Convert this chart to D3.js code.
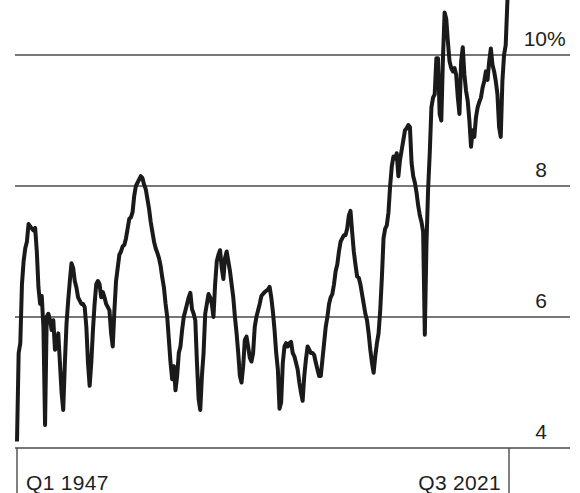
<!DOCTYPE html>
<html>
<head>
<meta charset="utf-8">
<script src="https://cdn.jsdelivr.net/npm/d3@7"></script>
<style>
  html, body { margin: 0; padding: 0; background: #fff; }
  svg { display: block; }
  text { font-family: "Liberation Sans", Arial, Helvetica, sans-serif; fill: #1e1e1e; }
</style>
</head>
<body>
<svg id="chart" width="580" height="493"></svg>
<script>
// Quarterly series, Q1 1947 .. Q3 2021 (percent)
const values = [
  4.1, 5.45, 5.6, 6.5, 6.85, 7.05, 7.15, 7.42, 7.38, 7.35,
  7.32, 7.36, 7.0, 6.45, 6.2, 6.32, 5.85, 4.35, 6.0, 6.05,
  5.95, 5.8, 5.95, 5.5, 5.55, 5.75, 5.3, 4.85, 4.58, 5.3,
  5.9, 6.25, 6.55, 6.82, 6.75, 6.55, 6.45, 6.3, 6.25, 6.2,
  6.2, 6.15, 5.85, 5.3, 4.95, 5.3, 5.8, 6.2, 6.5, 6.55,
  6.5, 6.3, 6.38, 6.3, 6.2, 6.15, 6.1, 5.75, 5.55, 6.1,
  6.55, 6.75, 6.95, 7.0, 7.08, 7.1, 7.2, 7.35, 7.5, 7.52,
  7.6, 7.85, 8.0, 8.05, 8.1, 8.15, 8.12, 8.02, 7.95, 7.8,
  7.65, 7.45, 7.3, 7.15, 7.05, 6.98, 6.9, 6.78, 6.6, 6.45,
  6.2, 6.0, 5.65, 5.3, 5.05, 5.25, 4.88, 5.1, 5.45, 5.55,
  5.8, 6.0, 6.1, 6.2, 6.3, 6.37, 6.12, 6.05, 5.95, 5.3,
  4.75, 4.58, 5.1, 5.45, 6.05, 6.2, 6.35, 6.3, 6.2, 6.0,
  6.5, 6.85, 6.95, 7.02, 6.75, 6.58, 6.9, 7.0, 6.85, 6.7,
  6.5, 6.3, 6.0, 5.75, 5.45, 5.1, 5.0, 5.25, 5.65, 5.7,
  5.55, 5.38, 5.32, 5.45, 5.85, 6.0, 6.1, 6.2, 6.32, 6.35,
  6.38, 6.4, 6.42, 6.46, 6.3, 6.08, 5.8, 5.45, 5.2, 4.6,
  4.7, 5.3, 5.55, 5.6, 5.55, 5.6, 5.62, 5.45, 5.4, 5.3,
  5.2, 5.0, 4.85, 4.72, 5.1, 5.35, 5.55, 5.5, 5.45, 5.45,
  5.42, 5.3, 5.2, 5.1, 5.1, 5.35, 5.6, 5.85, 6.0, 6.2,
  6.3, 6.35, 6.5, 6.7, 6.8, 7.0, 7.15, 7.2, 7.25, 7.25,
  7.35, 7.55, 7.62, 7.3, 7.0, 6.8, 6.62, 6.6, 6.5, 6.35,
  6.2, 6.05, 5.95, 5.75, 5.5, 5.3, 5.15, 5.4, 5.6, 5.75,
  6.1, 6.6, 7.2, 7.35, 7.4, 7.6, 8.0, 8.3, 8.45, 8.42,
  8.5, 8.15, 8.4, 8.55, 8.7, 8.85, 8.88, 8.93, 8.9, 8.35,
  8.15, 8.05, 7.9, 7.7, 7.55, 7.45, 7.3, 5.73, 7.1, 7.95,
  8.5, 9.2, 9.35, 9.4, 9.95, 9.95, 9.1, 9.0, 9.95, 10.65,
  10.55, 10.2, 9.9, 9.8, 9.75, 9.8, 9.7, 9.35, 9.1, 9.9,
  10.12, 9.7, 9.45, 9.3, 9.0, 8.6, 8.85, 8.75, 9.05, 9.2,
  9.28, 9.35, 9.5, 9.6, 9.75, 9.62, 9.9, 10.1, 9.85, 9.75,
  9.6, 9.4, 8.9, 8.75, 9.6, 10.0, 10.15, 10.8, 11.4
];
const yTicks = [4, 6, 8, 10];
const yTickLabels = ["4", "6", "8", "10"];
const xTickLabels = ["Q1 1947", "Q3 2021"];

const svg = d3.select("#chart");

const x = d3.scaleLinear().domain([0, values.length - 1]).range([17, 509]);
const y = d3.scaleLinear().domain([4, 10]).range([448, 55]);

// gridlines
svg.append("g").selectAll("line")
  .data(yTicks)
  .join("line")
  .attr("x1", 15).attr("x2", 570)
  .attr("y1", d => y(d)).attr("y2", d => y(d))
  .attr("stroke", "#4a4a4a").attr("stroke-width", 1.4);

// right-side labels
svg.append("g").selectAll("text")
  .data(yTicks)
  .join("text")
  .attr("x", 547)
  .attr("y", d => y(d) - 9)
  .attr("text-anchor", "end")
  .style("font-size", "21px")
  .text((d, i) => yTickLabels[i]);
svg.append("text")
  .attr("x", 547).attr("y", y(10) - 9)
  .attr("text-anchor", "start")
  .style("font-size", "21px")
  .text("%");

// x-axis tick lines at ends
const xEnds = [0, values.length - 1];
svg.append("g").selectAll("line")
  .data(xEnds)
  .join("line")
  .attr("x1", d => x(d)).attr("x2", d => x(d))
  .attr("y1", y(4)).attr("y2", 493)
  .attr("stroke", "#4a4a4a").attr("stroke-width", 1.4);

svg.append("text")
  .attr("x", x(0) + 9).attr("y", 490)
  .style("font-size", "21px")
  .style("letter-spacing", "0.3px")
  .text(xTickLabels[0]);
svg.append("text")
  .attr("x", x(values.length - 1) - 8).attr("y", 490)
  .attr("text-anchor", "end")
  .style("font-size", "21px")
  .style("letter-spacing", "0.3px")
  .text(xTickLabels[1]);

// the series line
const line = d3.line()
  .x((d, i) => x(i))
  .y(d => y(d));

svg.append("path")
  .datum(values)
  .attr("d", line)
  .attr("fill", "none")
  .attr("stroke", "#1a1a1a")
  .attr("stroke-width", 4)
  .attr("stroke-linejoin", "round")
  .attr("stroke-linecap", "butt");
</script>
</body>
</html>
